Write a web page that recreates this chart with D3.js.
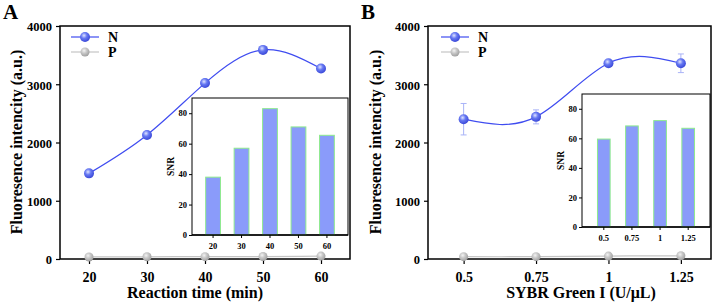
<!DOCTYPE html>
<html>
<head>
<meta charset="utf-8">
<script src="https://cdn.jsdelivr.net/npm/d3@7"></script>
<style>
  body { margin: 0; background: #fff; }
</style>
</head>
<body>
<script>
const width = 718
const height = 306

// Panel A: reaction time
const timeX = [20, 30, 40, 50, 60]
const timeN = [1470, 2130, 3020, 3590, 3270]
const timeP = [35, 38, 40, 42, 50]
const timeSNR = [38, 57, 83, 71, 65.5]

// Panel B: SYBR Green I
const sybrX = [0.5, 0.75, 1, 1.25]
const sybrLabels = ['0.5', '0.75', '1', '1.25']
const sybrN = [2400, 2440, 3360, 3360]
const sybrErr = [270, 120, 40, 160]
const sybrP = [40, 40, 50, 55]
const sybrSNR = [59.5, 68.4, 72, 66.8]

const mainTicks = [0, 1000, 2000, 3000, 4000]
const insetTicks = [0, 20, 40, 60, 80]

const svg = d3.select('body').append('svg').attr('width', width).attr('height', height)

// sphere-like markers
const defs = svg.append('defs')
function sphere(id, light, base, dark) {
  const g = defs.append('radialGradient').attr('id', id)
    .attr('cx', '40%').attr('cy', '35%').attr('r', '65%')
  g.append('stop').attr('offset', '0%').attr('stop-color', light)
  g.append('stop').attr('offset', '45%').attr('stop-color', base)
  g.append('stop').attr('offset', '100%').attr('stop-color', dark)
}
sphere('blueBall', '#dfe4ff', '#6678f2', '#3a48d8')
sphere('greyBall', '#f4f4f4', '#c8c8c8', '#a0a0a0')

function panel(opt) {
  const x = d3.scaleLinear().domain(opt.xDomain).range([opt.left, opt.right])
  const y = d3.scaleLinear().domain([0, 4000]).range([259, 26])

  const g = svg.append('g')

  // axes
  g.append('g').attr('transform', 'translate(0,259)')
    .call(d3.axisBottom(x).tickValues(opt.xs).tickFormat((d, i) => opt.xLabels[i]).tickSize(5).tickPadding(8))
    .call(a => a.selectAll('text').attr('font-size', 14).attr('fill', '#000'))
  g.append('g').attr('transform', `translate(${opt.left},0)`)
    .call(d3.axisLeft(y).tickValues(mainTicks).tickFormat(d3.format('d')).tickSize(4).tickPadding(4))
    .call(a => a.selectAll('text').attr('font-size', 12.5).attr('fill', '#000').attr('dy', '0.38em'))
  g.selectAll('.domain').remove()
  g.selectAll('.tick line').attr('stroke', '#000').attr('stroke-width', 1.2)

  g.append('rect').attr('x', opt.left).attr('y', 26)
    .attr('width', opt.right - opt.left).attr('height', 259 - 26)
    .attr('fill', 'none').attr('stroke', '#000').attr('stroke-width', 1.5)

  const line = d3.line().curve(d3.curveNatural).x(d => x(d[0])).y(d => y(d[1]))

  // P series
  const pData = opt.xs.map((d, i) => [d, opt.p[i]])
  g.append('path').attr('d', line(pData)).attr('fill', 'none')
    .attr('stroke', '#c4c4c4').attr('stroke-width', 1.2)
  g.selectAll('.pdot').data(pData).join('circle')
    .attr('cx', d => x(d[0])).attr('cy', d => y(d[1])).attr('r', 4.5)
    .attr('fill', 'url(#greyBall)')

  // N series
  const nData = opt.xs.map((d, i) => [d, opt.n[i]])
  g.append('path').attr('d', line(nData)).attr('fill', 'none')
    .attr('stroke', '#3f4cf0').attr('stroke-width', 1.2)
  if (opt.err) {
    const eb = g.selectAll('.err').data(nData).join('g').attr('stroke', '#a9b3f7').attr('stroke-width', 1)
    eb.append('line').attr('x1', d => x(d[0])).attr('x2', d => x(d[0]))
      .attr('y1', (d, i) => y(d[1] + opt.err[i])).attr('y2', (d, i) => y(d[1] - opt.err[i]))
    eb.append('line').attr('x1', d => x(d[0]) - 3).attr('x2', d => x(d[0]) + 3)
      .attr('y1', (d, i) => y(d[1] + opt.err[i])).attr('y2', (d, i) => y(d[1] + opt.err[i]))
    eb.append('line').attr('x1', d => x(d[0]) - 3).attr('x2', d => x(d[0]) + 3)
      .attr('y1', (d, i) => y(d[1] - opt.err[i])).attr('y2', (d, i) => y(d[1] - opt.err[i]))
  }
  g.selectAll('.ndot').data(nData).join('circle')
    .attr('cx', d => x(d[0])).attr('cy', d => y(d[1])).attr('r', 5)
    .attr('fill', 'url(#blueBall)')

  // legend
  const lg = g.append('g').attr('transform', `translate(${opt.legX},37)`)
  const items = [['N', '#3f4cf0', 'url(#blueBall)', 5], ['P', '#c4c4c4', 'url(#greyBall)', 4.5]]
  items.forEach((it, i) => {
    const row = lg.append('g').attr('transform', `translate(0,${i * 15})`)
    row.append('line').attr('x1', 0).attr('x2', 28).attr('stroke', it[1]).attr('stroke-width', 1.2)
    row.append('circle').attr('cx', 14).attr('r', it[3]).attr('fill', it[2])
    row.append('text').attr('x', 37).attr('dy', '0.35em').attr('font-size', 14).text(it[0])
  })

  // axis titles
  g.append('text').attr('x', opt.titleX).attr('y', 298).attr('text-anchor', 'middle')
    .attr('font-size', 16).text(opt.xTitle)
  g.append('text').attr('transform', `translate(${opt.yTitleX},142) rotate(-90)`)
    .attr('text-anchor', 'middle').attr('font-size', 16).text('Fluoresence intencity (a.u.)')

  g.append('text').attr('x', opt.tagX).attr('y', 19).attr('font-size', 21).text(opt.tag)

  // inset bar chart
  const ins = opt.inset
  const bx = d3.scaleBand().domain(opt.xLabels).range([ins.left, ins.right]).padding(ins.pad)
  const by = d3.scaleLinear().domain([0, 90]).range([ins.bottom, ins.top])
  const ig = g.append('g')
  ig.append('rect').attr('x', ins.left).attr('y', ins.top)
    .attr('width', ins.right - ins.left).attr('height', ins.bottom - ins.top)
    .attr('fill', '#fff').attr('stroke', '#000').attr('stroke-width', 1)
  ig.selectAll('.bar').data(opt.snr).join('rect')
    .attr('x', (d, i) => bx(opt.xLabels[i])).attr('width', bx.bandwidth())
    .attr('y', d => by(d)).attr('height', d => ins.bottom - by(d))
    .attr('fill', '#8a9bfa').attr('stroke', '#8eea8e').attr('stroke-width', 1)
  ig.append('g').attr('transform', `translate(0,${ins.bottom})`)
    .call(d3.axisBottom(bx).tickSize(3).tickPadding(5))
    .call(a => a.selectAll('text').attr('font-size', 8.5).attr('fill', '#000'))
  ig.append('g').attr('transform', `translate(${ins.left},0)`)
    .call(d3.axisLeft(by).tickValues(insetTicks).tickSize(3).tickPadding(2))
    .call(a => a.selectAll('text').attr('font-size', 8.5).attr('fill', '#000'))
  ig.selectAll('.domain').remove()
  ig.selectAll('.tick line').attr('stroke', '#000')
  ig.append('line').attr('x1', ins.left).attr('x2', ins.right)
    .attr('y1', ins.bottom).attr('y2', ins.bottom).attr('stroke', '#000').attr('stroke-width', 1.5)
  ig.append('text').attr('transform', `translate(${ins.left - 18},${(ins.top + ins.bottom) / 2}) rotate(-90)`)
    .attr('text-anchor', 'middle').attr('font-size', 9.5).text('SNR')
}

panel({
  tag: 'A', tagX: 3,
  xDomain: [15, 65], left: 60, right: 350,
  xs: timeX, xLabels: timeX.map(String),
  n: timeN, p: timeP, snr: timeSNR,
  legX: 71, titleX: 195, yTitleX: 22,
  xTitle: 'Reaction time (min)',
  inset: { left: 192, right: 348, top: 98, bottom: 235, pad: 0.48 }
})

panel({
  tag: 'B', tagX: 361,
  xDomain: [0.377, 1.354], left: 428, right: 711,
  xs: sybrX, xLabels: sybrLabels,
  n: sybrN, p: sybrP, err: sybrErr, snr: sybrSNR,
  legX: 441, titleX: 581, yTitleX: 381,
  xTitle: 'SYBR Green I (U/μL)',
  inset: { left: 582, right: 710, top: 94, bottom: 227, pad: 0.55 }
})

// serif bold everywhere, like the original figure
svg.selectAll('text')
  .attr('font-family', null)
  .style('font-family', '"Liberation Serif", "Times New Roman", "DejaVu Serif", serif')
  .style('font-weight', 'bold')
svg.selectAll('g').attr('font-family', null)
</script>
</body>
</html>
